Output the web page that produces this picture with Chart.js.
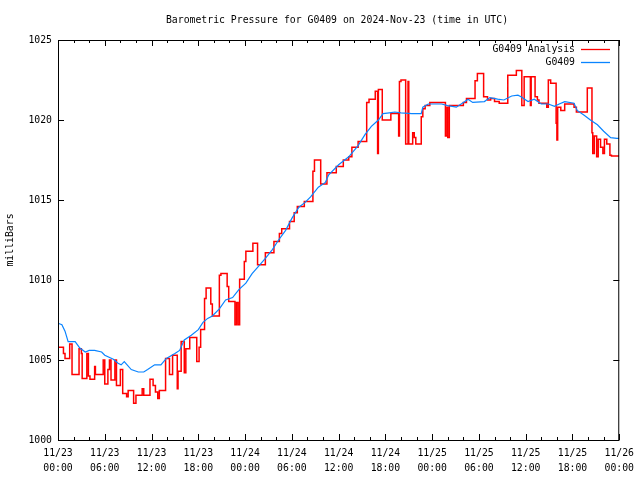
<!DOCTYPE html>
<html lang="en">
<head>
<meta charset="UTF-8">
<title>Barometric Pressure for G0409</title>
<script src="https://cdn.jsdelivr.net/npm/chart.js"></script>
<style>
    html, body { margin: 0; padding: 0; background: #fff; }
    #wrap { width: 640px; height: 480px; }
</style>
</head>
<body>
<div id="wrap"><canvas id="pressureChart" width="640" height="480"></canvas></div>
<script>
// --- data (hours since 11/23 00:00 UTC, pressure in mb) ---
const chartTitle = 'Barometric Pressure for G0409 on 2024-Nov-23 (time in UTC)';
const seriesNames = ['G0409 Analysis', 'G0409'];
const xTickLabels = [
    ['11/23', '00:00'], ['11/23', '06:00'], ['11/23', '12:00'], ['11/23', '18:00'],
    ['11/24', '00:00'], ['11/24', '06:00'], ['11/24', '12:00'], ['11/24', '18:00'],
    ['11/25', '00:00'], ['11/25', '06:00'], ['11/25', '12:00'], ['11/25', '18:00'],
    ['11/26', '00:00']
];
const yTickValues = [1000, 1005, 1010, 1015, 1020, 1025];

const redHours = [
    0, 0.7, 0.9, 1.5, 1.8, 2.7, 3.0, 3.1, 3.7, 3.9, 4.1, 4.7, 4.8, 5.8, 6.0, 6.4, 6.6, 6.8,
    7.3, 7.5, 8.0, 8.3, 8.8, 9.0, 9.7, 10.0, 10.8, 11.0, 11.8, 12.2, 12.5, 12.8, 13.0, 13.8,
    14.3, 14.7, 15.3, 15.4, 15.8, 16.2, 16.4, 16.9, 17.8, 18.1, 18.3, 18.8, 19.0, 19.6, 19.8,
    20.7, 20.9, 21.7, 21.9, 22.7, 22.9, 23.1, 23.3, 23.9, 24.1, 25.0, 25.6, 26.6, 27.7, 28.4,
    28.7, 29.7, 30.3, 30.7, 31.6, 32.7, 32.9, 33.7, 34.5, 35.7, 36.6, 37.3, 37.7, 38.5, 39.6,
    39.9, 40.7, 41.0, 41.1, 41.6, 42.7, 43.7, 43.8, 44.0, 44.6, 44.9, 45.0, 45.5, 45.7, 45.9,
    46.6, 46.8, 47.1, 47.7, 49.7, 49.9, 50.0, 50.2, 52.0, 52.4, 53.5, 53.8, 54.6, 55.1, 55.5,
    56.0, 56.6, 57.7, 58.8, 59.5, 59.8, 60.6, 60.7, 61.2, 61.5, 61.7, 62.7, 62.9, 63.2, 63.9,
    64.0, 64.1, 64.5, 65.0, 66.2, 66.5, 67.9, 68.5, 68.6, 68.8, 69.1, 69.3, 69.6, 69.9, 70.1,
    70.4, 70.8, 71.0, 72.0
];
const redValues = [
    1005.8, 1005.4, 1005.1, 1006.0, 1004.1, 1005.7, 1005.4, 1003.85, 1005.4, 1004.0, 1003.8, 1004.6, 1004.1, 1005.0, 1003.5, 1004.4, 1005.0, 1003.75,
    1005.0, 1003.4, 1004.4, 1002.9, 1002.7, 1003.1, 1002.3, 1002.8, 1003.2, 1002.8, 1003.8, 1003.4, 1003.0, 1002.6, 1003.1, 1005.1,
    1004.1, 1005.3, 1003.2, 1004.3, 1006.15, 1004.2, 1005.7, 1006.4, 1004.9, 1005.8, 1006.9, 1008.85, 1009.5, 1008.5, 1007.75,
    1010.3, 1010.4, 1009.6, 1008.65, 1007.2, 1008.6, 1007.2, 1010.05, 1011.15, 1011.8, 1012.3, 1010.95, 1011.7, 1012.4, 1012.9,
    1013.2, 1013.65, 1014.2, 1014.6, 1014.9, 1016.8, 1017.5, 1016.0, 1016.7, 1017.1, 1017.5, 1017.7, 1018.3, 1018.65, 1021.1,
    1021.3, 1021.8, 1017.9, 1021.9, 1020.0, 1020.4, 1019.0, 1022.4, 1022.5, 1018.5, 1022.4, 1018.5, 1019.2, 1018.9, 1018.5,
    1020.2, 1020.7, 1020.9, 1021.1, 1019.0, 1020.8, 1018.9, 1020.9, 1021.1, 1021.35, 1022.45, 1022.9, 1021.45, 1021.25, 1021.35,
    1021.15, 1021.05, 1022.8, 1023.1, 1020.9, 1022.7, 1020.9, 1022.7, 1021.45, 1021.25, 1021.05, 1020.8, 1022.5, 1022.3, 1019.8,
    1018.75, 1020.8, 1020.6, 1021.0, 1020.8, 1020.5, 1022.0, 1019.2, 1017.9, 1019.0, 1017.7, 1018.8, 1018.3, 1017.9, 1018.8,
    1018.5, 1017.8, 1017.75, 1017.75
];

const blueHours = [
    0, 0.5, 0.9, 1.3, 2.2, 2.8, 3.5, 4.0, 4.7, 5.6, 6.0, 7.1, 7.7, 8.1, 8.5, 9.4, 10.3, 11.0,
    11.5, 12.4, 13.2, 13.9, 15.0, 15.6, 16.2, 17.1, 18.0, 18.6, 19.2, 19.8, 20.7, 21.5, 22.4,
    23.2, 24.1, 24.9, 25.8, 26.6, 27.5, 28.3, 29.2, 30.0, 30.9, 31.7, 32.4, 33.4, 34.3, 34.7,
    36.0, 37.3, 38.5, 39.4, 40.2, 41.1, 41.7, 42.5, 43.2, 44.0, 45.4, 46.6, 46.8, 47.5, 49.2,
    50.0, 51.1, 52.2, 52.6, 53.2, 54.7, 55.4, 56.4, 57.2, 58.2, 59.0, 59.4, 60.3, 61.1, 62.0,
    62.9, 63.7, 64.3, 65.0, 66.2, 66.6, 67.5, 68.3, 69.2, 70.0, 70.9, 71.7, 72.0
];
const blueValues = [
    1007.3, 1007.2, 1006.8, 1006.15, 1006.15, 1005.75, 1005.5, 1005.6, 1005.6, 1005.5, 1005.3, 1005.05, 1004.8, 1004.7, 1004.9, 1004.4, 1004.25, 1004.25,
    1004.4, 1004.7, 1004.7, 1005.1, 1005.4, 1005.6, 1006.25, 1006.55, 1006.9, 1007.35, 1007.6, 1007.75, 1008.2, 1008.75, 1008.9,
    1009.4, 1009.8, 1010.4, 1010.9, 1011.35, 1011.9, 1012.5, 1013.1, 1013.85, 1014.55, 1014.85, 1015.2, 1015.8, 1016.1, 1016.55,
    1017.2, 1017.7, 1018.4, 1019.1, 1019.6, 1020.0, 1020.4, 1020.45, 1020.5, 1020.45, 1020.4, 1020.4, 1020.8, 1021.0, 1021.0,
    1020.9, 1020.8, 1021.15, 1021.3, 1021.1, 1021.15, 1021.4, 1021.3, 1021.25, 1021.5, 1021.55, 1021.45, 1021.15, 1021.3, 1021.0,
    1021.0, 1020.85, 1021.0, 1021.15, 1021.05, 1020.6, 1020.3, 1020.0, 1019.7, 1019.3, 1018.9, 1018.85, 1018.85
];

const seriesColors = ['#ff0000', '#0a84ff'];
const monoFont = "'DejaVu Sans Mono', 'Liberation Mono', monospace";

// frame, inward ticks, title and legend (gnuplot look)
const gnuplotFrame = {
    id: 'gnuplotFrame',
    afterDraw(chart) {
        const { ctx, chartArea: a, scales: { x, y } } = chart;
        ctx.save();
        ctx.strokeStyle = '#000';
        ctx.lineWidth = 1;
        ctx.strokeRect(a.left + 0.5, a.top + 0.5, a.right - a.left - 1, a.bottom - a.top);

        ctx.beginPath();
        yTickValues.forEach(v => {
            const py = Math.round(y.getPixelForValue(v)) + 0.5;
            ctx.moveTo(a.left, py); ctx.lineTo(a.left + 6, py);
            ctx.moveTo(a.right, py); ctx.lineTo(a.right - 6, py);
        });
        for (let h = 0; h <= 72; h += 2) {
            const px = Math.round(x.getPixelForValue(h)) + 0.5;
            const len = h % 6 === 0 ? 6 : 3;
            ctx.moveTo(px, a.bottom); ctx.lineTo(px, a.bottom - len);
            ctx.moveTo(px, a.top); ctx.lineTo(px, a.top + len);
        }
        ctx.stroke();

        ctx.fillStyle = '#000';
        ctx.font = '9.8px ' + monoFont;
        ctx.textBaseline = 'middle';
        ctx.textAlign = 'center';
        ctx.fillText(chartTitle, 337, 20);

        // legend
        ctx.textAlign = 'right';
        seriesNames.forEach((name, i) => {
            const ly = 49 + i * 13;
            ctx.fillStyle = '#000';
            ctx.fillText(name, 575, ly);
            ctx.strokeStyle = seriesColors[i];
            ctx.lineWidth = 1.3;
            ctx.beginPath();
            ctx.moveTo(581, ly + 0.5); ctx.lineTo(610, ly + 0.5);
            ctx.stroke();
        });
        ctx.restore();
    }
};

const ctx = document.getElementById('pressureChart').getContext('2d');
new Chart(ctx, {
    type: 'line',
    data: {
        datasets: [
            {
                label: seriesNames[0],
                data: redHours.map((h, i) => ({ x: h, y: redValues[i] })),
                borderColor: seriesColors[0],
                borderWidth: 1.5,
                stepped: 'before',
                pointRadius: 0,
                order: 2
            },
            {
                label: seriesNames[1],
                data: blueHours.map((h, i) => ({ x: h, y: blueValues[i] })),
                borderColor: seriesColors[1],
                borderWidth: 1.2,
                pointRadius: 0,
                order: 1
            }
        ]
    },
    options: {
        responsive: false,
        animation: false,
        devicePixelRatio: 1,
        layout: { padding: { top: 40, right: 18, left: 0, bottom: 0 } },
        plugins: {
            legend: { display: false },
            title: { display: false },
            tooltip: { enabled: false }
        },
        scales: {
            x: {
                type: 'linear',
                min: 0,
                max: 72,
                afterFit: s => { s.height = 40; },
                grid: { display: false, drawTicks: false },
                border: { display: false },
                ticks: {
                    stepSize: 6,
                    autoSkip: false,
                    maxRotation: 0,
                    padding: 6,
                    color: '#000',
                    font: { family: monoFont, size: 9.8, lineHeight: 1.5 },
                    callback: v => xTickLabels[v / 6]
                }
            },
            y: {
                min: 1000,
                max: 1025,
                afterFit: s => { s.width = 58; },
                grid: { display: false, drawTicks: false },
                border: { display: false },
                title: {
                    display: true,
                    text: 'milliBars',
                    color: '#000',
                    padding: { top: 5, bottom: 0 },
                    font: { family: monoFont, size: 9.8 }
                },
                ticks: {
                    stepSize: 5,
                    padding: 6,
                    color: '#000',
                    font: { family: monoFont, size: 9.8 },
                    callback: v => String(v)
                }
            }
        }
    },
    plugins: [gnuplotFrame]
});
</script>
</body>
</html>
